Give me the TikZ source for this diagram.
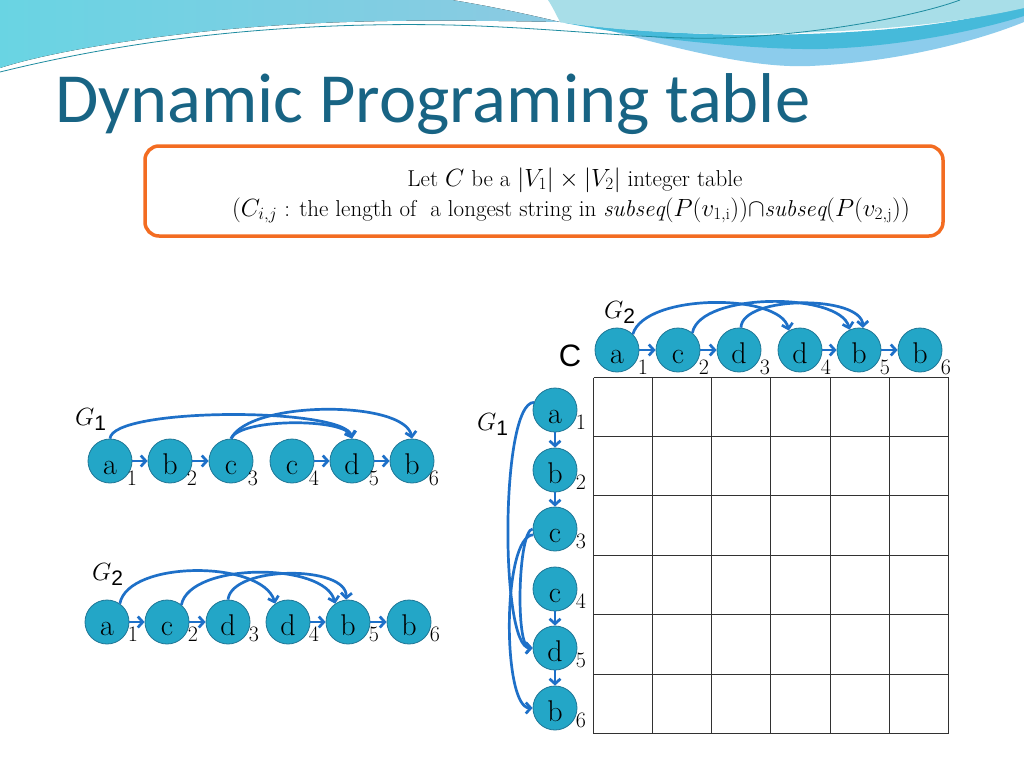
\documentclass[tikz,border=0pt]{standalone}
\usepackage{fontspec}
\newfontfamily\titlefont{Carlito}
\newfontfamily\sansf{Liberation Sans}
\usetikzlibrary{arrows.meta}
\definecolor{nodefill}{RGB}{35,166,199}
\definecolor{nodedraw}{RGB}{30,118,150}
\definecolor{arrowblue}{RGB}{30,112,200}
\definecolor{titleblue}{RGB}{24,100,132}
\definecolor{boxorange}{RGB}{243,108,33}
\definecolor{gridgray}{RGB}{50,50,50}
\definecolor{waveA}{RGB}{105,212,227}
\definecolor{waveB}{RGB}{140,202,226}
\definecolor{wavepale}{RGB}{168,222,232}
\definecolor{waveband}{RGB}{70,186,218}
\definecolor{wavelobe}{RGB}{140,204,236}
\definecolor{waveline}{RGB}{30,140,160}
\tikzset{
  vnode/.style={circle, fill=nodefill, draw=nodedraw, line width=0.8pt,
    minimum size=44pt, inner sep=0pt, font=\fontsize{30}{30}\selectfont,
    text height=26pt, text depth=0pt},
  sublbl/.style={font=\fontsize{22}{22}\selectfont, inner sep=0pt},
  arr/.style={draw=arrowblue, line width=2.7pt,
    -{Straight Barb[length=5pt,width=11pt]}},
  glbl/.style={inner sep=0pt, anchor=base west},
  boxtext/.style={anchor=base, inner sep=0pt, font=\fontsize{23}{23}\selectfont},
  gridline/.style={draw=gridgray, line width=1pt}
}
\newcommand{\gname}[1]{{\fontsize{29}{29}\selectfont$G$}{\sansf\fontsize{21}{21}\selectfont\raisebox{-5pt}{#1}}}
\begin{document}
\begin{tikzpicture}[x=1pt,y=-1pt]
\useasboundingbox (0,0) rectangle (1024,768);
\fill[white] (0,0) rectangle (1024,768);
% background waves
\fill[wavelobe] (600,28) .. controls (700,55) and (760,68) .. (810,66) .. controls (900,62) and (980,40) .. (1024,22) -- (1024,10) .. controls (900,40) and (750,40) .. (600,28) -- cycle;
\fill[waveband] (560,22) .. controls (650,40) and (760,50) .. (820,49) .. controls (900,47) and (980,30) .. (1024,16) -- (1024,5) .. controls (950,28) and (850,34) .. (760,35) .. controls (680,35) and (600,28) .. (560,22) -- cycle;
\fill[wavepale] (548,0) -- (1024,0) -- (1024,8) .. controls (950,25) and (850,34) .. (720,34) .. controls (650,33) and (590,27) .. (560,22) .. controls (556,14) and (552,6) .. (548,0) -- cycle;
\fill[left color=waveA, right color=waveB] (0,0) -- (452,0) .. controls (500,8) and (530,15) .. (560,22) .. controls (450,20) and (330,18) .. (200,32) .. controls (110,42) and (40,55) .. (0,68) -- cycle;
\draw[waveline, line width=0.8pt] (0,72) .. controls (150,35) and (300,22) .. (450,25) .. controls (560,28) and (650,40) .. (720,38) .. controls (820,35) and (920,15) .. (960,0);
\draw[white, line width=0.8pt] (0,69) .. controls (150,33) and (300,20) .. (450,23);

% title
\node[anchor=base west, inner sep=0pt, text=titleblue,
  font=\titlefont\fontsize{70.5}{70.5}\selectfont] (title) at (55,122) {Dynamic Programing table};

% definition box
\node[draw=boxorange, line width=3.5pt, rounded corners=14pt,
  minimum width=798pt, minimum height=90pt] (box) at (544,191) {};
\node[boxtext] (line1) at (575,186)
  {Let $C$ be a $|V_1|\mathbin{\times}{|V_2|}$ integer table};
\node[boxtext] (line2) at (571,216)
  {$(C_{i,j}$ : the length of~ a longest string in $\mathit{subseq}(P(v_{1,\mathrm{i}})){\cap}\mathit{subseq}(P(v_{2,\mathrm{j}}))$};

% ---------- G1 (left top) ----------
\node[glbl] (g1lbl) at (75,425) {\gname{1}};
\foreach \n/\x/\t in {1/110/a,2/170/b,3/231/c,4/292/c,5/352/d,6/412/b}{
  \node[vnode] (t\n) at (\x,461) {\t};
  \node[sublbl] (ts\n) at (\x+22,478) {\n};
}
\draw[arr] (t1) -- (t2);
\draw[arr] (t2) -- (t3);
\draw[arr] (t4) -- (t5);
\draw[arr] (t5) -- (t6);
\draw[arr] (t1.north) .. controls (112,407) and (345,407) .. (t5.north);
\draw[arr] (t3.north) .. controls (240,418) and (345,418) .. (t5.north);
\draw[arr] (t3.north) .. controls (250,400) and (405,400) .. (t6.north);

% ---------- G2 (left bottom) ----------
\node[glbl] (g2lbl) at (92,580) {\gname{2}};
\foreach \n/\x/\t in {1/107/a,2/167/c,3/228/d,4/288/d,5/348/b,6/409/b}{
  \node[vnode] (b\n) at (\x,622) {\t};
  \node[sublbl] (bs\n) at (\x+26,634) {\n};
}
\draw[arr] (b1) -- (b2);
\draw[arr] (b2) -- (b3);
\draw[arr] (b4) -- (b5);
\draw[arr] (b5) -- (b6);
\draw[arr] (b1.55) .. controls (128,560) and (262,560) .. (b4.125);
\draw[arr] (b2.50) .. controls (190,562) and (325,562) .. (b5.125);
\draw[arr] (b3.north) .. controls (232,565) and (348,565) .. (b5.95);

% ---------- G2 (top of table) ----------
\node[glbl] (g2tlbl) at (604,318) {\gname{2}};
\node[inner sep=0pt, font=\sansf\fontsize{31}{31}\selectfont] (clbl) at (570,356) {C};
\foreach \n/\x/\t in {1/617/a,2/678/c,3/739/d,4/800/d,5/859/b,6/920/b}{
  \node[vnode] (u\n) at (\x,350) {\t};
  \node[sublbl] (us\n) at (\x+26,367) {\n};
}
\draw[arr] (u1) -- (u2);
\draw[arr] (u2) -- (u3);
\draw[arr] (u4) -- (u5);
\draw[arr] (u5) -- (u6);
\draw[arr] (u1.45) .. controls (645,293) and (780,293) .. (u4.120);
\draw[arr] (u2.50) .. controls (700,292) and (840,292) .. (u5.115);
\draw[arr] (u3.85) .. controls (742,295) and (862,295) .. (u5.80);

% ---------- G1 (left of table) ----------
\node[glbl] (g1vlbl) at (477,430) {\gname{1}};
\foreach \n/\y/\t in {1/410/a,2/470/b,3/529/c,4/589/c,5/648/d,6/708/b}{
  \node[vnode] (v\n) at (555,\y) {\t};
  \node[sublbl] (vs\n) at (581,\y+12) {\n};
}
\draw[arr] (v1) -- (v2);
\draw[arr] (v2) -- (v3);
\draw[arr] (v4) -- (v5);
\draw[arr] (v5) -- (v6);
\draw[arr] (v1.160) .. controls (500,403) and (500,648) .. (v5.west);
\draw[arr] (v3.west) .. controls (518,530) and (515,648) .. (v5.west);
\draw[arr] (v3.195) .. controls (502,535) and (502,708) .. (v6.west);

% ---------- table ----------
\foreach \cx in {593.5,652.5,711.5,770.5,830.5,889.5,948.5}{
  \draw[gridline] (\cx,377.5) -- (\cx,733.5);
}
\foreach \ry in {377.5,436.5,495.5,555.5,614.5,674.5,733.5}{
  \draw[gridline] (593.5,\ry) -- (948.5,\ry);
}
\end{tikzpicture}
\end{document}
